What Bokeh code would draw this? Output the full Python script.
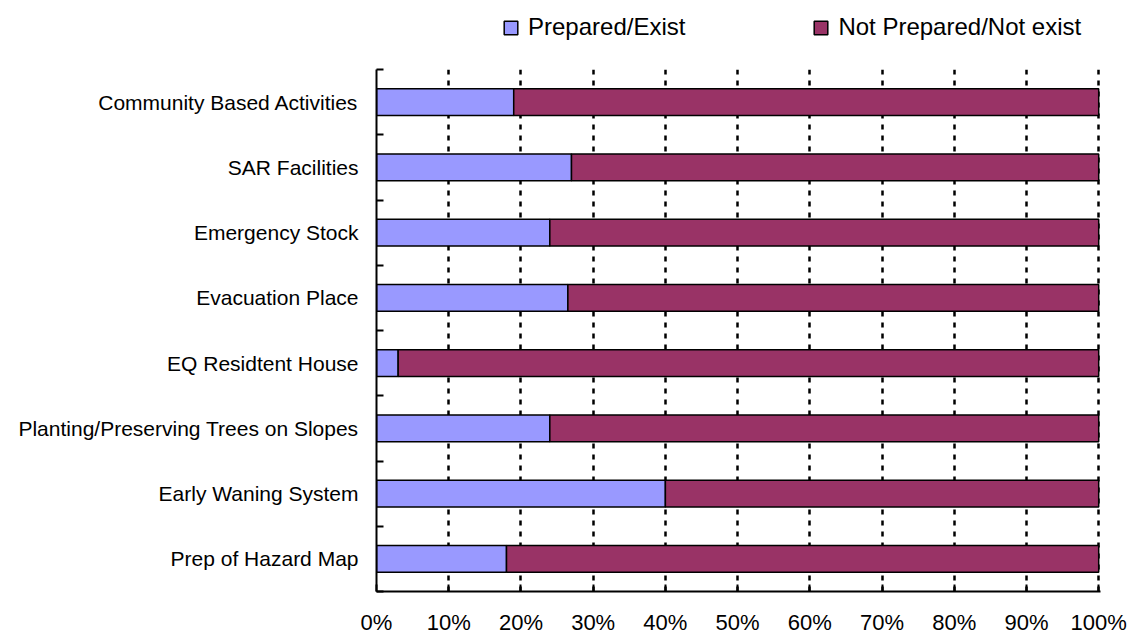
from bokeh.plotting import figure
from bokeh.layouts import column
from bokeh.models import FixedTicker, Legend, LegendItem, Range1d, ColumnDataSource
from bokeh.embed import file_html
from bokeh.resources import INLINE

# Preparedness items, listed top to bottom
categories = [
    "Community Based Activities",
    "SAR Facilities",
    "Emergency Stock",
    "Evacuation Place",
    "EQ Residtent House",
    "Planting/Preserving Trees on Slopes",
    "Early Waning System",
    "Prep of Hazard Map",
]
prepared = [19, 27, 24, 26.5, 3, 24, 40, 18]
not_prepared = [81, 73, 76, 73.5, 97, 76, 60, 82]
x_ticks = [0, 10, 20, 30, 40, 50, 60, 70, 80, 90, 100]
x_tick_labels = ["0%", "10%", "20%", "30%", "40%", "50%", "60%", "70%", "80%", "90%", "100%"]
series_names = ["Prepared/Exist", "Not Prepared/Not exist"]
series_colors = ["#9999FF", "#993366"]

FONT = "Liberation Sans"
W, H = 1130, 637
TOP_H = 67
n = len(categories)
y_pos = [n - i - 0.5 for i in range(n)]
starts = [0] * n
ends = [a + b for a, b in zip(prepared, not_prepared)]

# ---- main bar chart ----
# a hair of room past 100% keeps the last dotted gridline fully visible
p = figure(
    width=W, height=H - TOP_H,
    x_range=Range1d(0, 100.25), y_range=Range1d(0, n),
    output_backend="svg", toolbar_location=None,
    min_border_left=376, min_border_right=30,
    min_border_top=2, min_border_bottom=46,
)
p.outline_line_color = None

p.hbar(y=y_pos, left=starts, right=prepared, height=0.41,
       fill_color=series_colors[0], line_color="black", line_width=1.5)
p.hbar(y=y_pos, left=prepared, right=ends, height=0.41,
       fill_color=series_colors[1], line_color="black", line_width=1.5)

# x axis: percentage ticks pointing inward, labels well below
p.xaxis.ticker = FixedTicker(ticks=x_ticks)
p.xaxis.major_label_overrides = {t: s for t, s in zip(x_ticks, x_tick_labels)}
p.xaxis.major_tick_in = 7
p.xaxis.major_tick_out = 0
p.xaxis.minor_tick_line_color = None
p.xaxis.axis_line_width = 2
p.xaxis.major_tick_line_width = 2
p.xaxis.major_label_standoff = 18
p.xaxis.major_label_text_font = FONT
p.xaxis.major_label_text_font_size = "22px"
p.xaxis.major_label_text_color = "black"

# y axis: labels at category centres, tick marks at category boundaries
p.yaxis.ticker = FixedTicker(ticks=y_pos, minor_ticks=list(range(n + 1)))
p.yaxis.major_label_overrides = {y: c for y, c in zip(y_pos, categories)}
p.yaxis.major_tick_in = 0
p.yaxis.major_tick_out = 0
p.yaxis.minor_tick_in = 7
p.yaxis.minor_tick_out = 0
p.yaxis.minor_tick_line_width = 2
p.yaxis.axis_line_width = 2
p.yaxis.major_label_standoff = 18
p.yaxis.major_label_text_font = FONT
p.yaxis.major_label_text_font_size = "21px"
p.yaxis.major_label_text_color = "black"

# dotted vertical gridlines every 10%
p.xgrid.ticker = FixedTicker(ticks=x_ticks[1:])
p.xgrid.grid_line_color = "black"
p.xgrid.grid_line_width = 2.5
p.xgrid.grid_line_dash = "5 6"
p.ygrid.grid_line_color = None

# ---- legend strip above the chart ----
top = figure(
    width=W, height=TOP_H,
    x_range=Range1d(0, 1), y_range=Range1d(0, 1),
    x_axis_type=None, y_axis_type=None,
    output_backend="svg", toolbar_location=None,
    min_border=0,
)
top.outline_line_color = None
top.grid.visible = False

# swatch renderers kept outside the visible range; only their legend entries show
offscreen = ColumnDataSource(data=dict(x=[-10], y=[-10]))
items = []
for name, color in zip(series_names, series_colors):
    r = top.rect(x="x", y="y", width=1, height=1, source=offscreen,
                 fill_color=color, line_color="black", line_width=1.5)
    items.append(LegendItem(label=name, renderers=[r]))

legend = Legend(
    items=items,
    orientation="horizontal",
    location=(126, 26),
    padding=0, margin=0, spacing=127,
    glyph_width=17, glyph_height=17, label_standoff=9,
    label_text_font=FONT, label_text_font_size="24px",
    label_text_color="black",
    border_line_color=None, background_fill_alpha=0,
)
top.add_layout(legend)

layout = column(top, p, spacing=0)
open("out.html", "w").write(file_html(layout, INLINE))
